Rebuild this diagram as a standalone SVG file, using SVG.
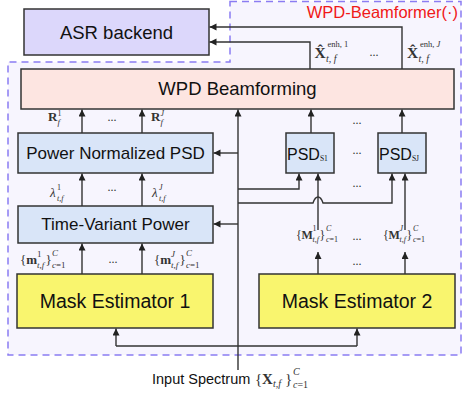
<svg xmlns="http://www.w3.org/2000/svg" width="462" height="405" viewBox="0 0 462 405">
<style>
.box{stroke:#333;stroke-width:1.5}
.t{font-family:"Liberation Sans",Arial,Helvetica,sans-serif;fill:#111;text-anchor:middle}
.m{font-family:"Liberation Serif","Times New Roman",serif;fill:#333}
.b{font-weight:bold}
.i{font-style:italic}
.c{fill:none;stroke:#333;stroke-width:1.4}
.d{font-family:"Liberation Serif",serif;fill:#333;font-size:12px;text-anchor:middle}
</style>
<defs>
<marker id="ah" markerUnits="userSpaceOnUse" markerWidth="8" markerHeight="8" refX="7" refY="3.5" orient="auto">
<path d="M0,0 L7,3.5 L0,7 Z" fill="#222"/>
</marker>
</defs>
<rect width="462" height="405" fill="#ffffff"/>
<g id="region">
<path d="M230,1.5 L461,1.5 L461,355 L8,355 L8,62 L230,62 Z" fill="#f7f5fe" stroke="#8b7cf2" stroke-width="1.5" stroke-dasharray="7 5"/>
<text x="458" y="18" font-family="Liberation Sans,Arial,sans-serif" font-size="16.5" fill="#f01818" text-anchor="end">WPD-Beamformer(·)</text>
</g>
<g id="asr">
<rect class="box" x="24" y="9" width="185" height="46" fill="#dcd7fb"/>
<text class="t" x="116.5" y="39" font-size="18.5">ASR backend</text>
</g>
<g id="wpd">
<rect class="box" x="21" y="69" width="433" height="40" fill="#fde5e1"/>
<text class="t" x="237.5" y="95" font-size="18.5">WPD Beamforming</text>
</g>
<g id="pnpsd">
<rect class="box" x="18" y="133" width="195" height="40" fill="#d9e5f8"/>
<text class="t" x="115.5" y="159" font-size="17">Power Normalized PSD</text>
</g>
<g id="tvp">
<rect class="box" x="18" y="206" width="195" height="37" fill="#d9e5f8"/>
<text class="t" x="115.5" y="230" font-size="17">Time-Variant Power</text>
</g>
<g id="psd1">
<rect class="box" x="286" y="133" width="48" height="40" fill="#d9e5f8"/>
<text x="287" y="159.5" font-family="Liberation Sans,Arial,sans-serif" font-size="16" fill="#111">PSD<tspan font-family="Liberation Serif,serif" font-size="7.5" dy="1">S1</tspan></text>
</g>
<g id="psdj">
<rect class="box" x="378" y="133" width="48" height="40" fill="#d9e5f8"/>
<text x="379" y="159.5" font-family="Liberation Sans,Arial,sans-serif" font-size="16" fill="#111">PSD<tspan font-family="Liberation Serif,serif" font-size="7.5" dy="1">SJ</tspan></text>
</g>
<g id="me1">
<rect class="box" x="17" y="274" width="196" height="54" fill="#f9f56e"/>
<text class="t" x="115" y="308" font-size="19.5">Mask Estimator 1</text>
</g>
<g id="me2">
<rect class="box" x="259" y="274" width="196" height="54" fill="#f9f56e"/>
<text class="t" x="357" y="308" font-size="19.5">Mask Estimator 2</text>
</g>
<g id="connectors">
<path class="c" d="M310,69 V42 H209.5" marker-end="url(#ah)"/>
<path class="c" d="M402,69 V27 H209.5" marker-end="url(#ah)"/>
<path class="c" d="M82,133 V109.5" marker-end="url(#ah)"/>
<path class="c" d="M142,133 V109.5" marker-end="url(#ah)"/>
<path class="c" d="M82,206 V173.5" marker-end="url(#ah)"/>
<path class="c" d="M142,206 V173.5" marker-end="url(#ah)"/>
<path class="c" d="M82,274 V243.5" marker-end="url(#ah)"/>
<path class="c" d="M142,274 V243.5" marker-end="url(#ah)"/>
<path class="c" d="M311,133 V109.5" marker-end="url(#ah)"/>
<path class="c" d="M402,133 V109.5" marker-end="url(#ah)"/>
<path class="c" d="M238,370 V109.5" marker-end="url(#ah)"/>
<path class="c" d="M238,153 H213.5" marker-end="url(#ah)"/>
<path class="c" d="M238,224 H213.5" marker-end="url(#ah)"/>
<path class="c" d="M238,189 H299 V173.5" marker-end="url(#ah)"/>
<path class="c" d="M238,203 H313 Q315,197 318,197 Q321,197 323,203 H392 V173.5" marker-end="url(#ah)"/>
<path class="c" d="M318,230 V173.5" marker-end="url(#ah)"/>
<path class="c" d="M405,230 V173.5" marker-end="url(#ah)"/>
<path class="c" d="M318,274 V252" marker-end="url(#ah)"/>
<path class="c" d="M405,274 V252" marker-end="url(#ah)"/>
<path class="c" d="M116,346 H357"/>
<path class="c" d="M116,346 V328.5" marker-end="url(#ah)"/>
<path class="c" d="M357,346 V328.5" marker-end="url(#ah)"/>
</g>
<g id="labels">
<text class="m" font-size="15.5"><tspan class="b" x="314.5" y="57.5">X̂</tspan><tspan font-size="8.5" x="327.5" y="47">enh, 1</tspan><tspan class="i" font-size="10" x="326" y="62">t, f</tspan></text>
<text class="d" x="374" y="56">...</text>
<text class="m" font-size="15.5"><tspan class="b" x="407" y="57.5">X̂</tspan><tspan font-size="8.5" x="420" y="47">enh, <tspan class="i">J</tspan></tspan><tspan class="i" font-size="10" x="418.5" y="62">t, f</tspan></text>

<text class="m" font-size="13"><tspan class="b" x="48" y="121">R</tspan><tspan font-size="8" x="57.5" y="116">1</tspan><tspan class="i" font-size="9" x="57.5" y="125">f</tspan></text>
<text class="d" x="112" y="121">...</text>
<text class="m" font-size="13"><tspan class="b" x="151" y="121">R</tspan><tspan class="i" font-size="8" x="160.5" y="116">J</tspan><tspan class="i" font-size="9" x="160.5" y="125">f</tspan></text>

<text class="m" font-size="13"><tspan class="i" x="50" y="197">λ</tspan><tspan font-size="8" x="57" y="190">1</tspan><tspan class="i" font-size="8" x="57" y="201">t,f</tspan></text>
<text class="d" x="112" y="191">...</text>
<text class="m" font-size="13"><tspan class="i" x="152" y="197">λ</tspan><tspan class="i" font-size="8" x="159" y="190">J</tspan><tspan class="i" font-size="8" x="159" y="201">t,f</tspan></text>

<text class="m" font-size="13"><tspan x="20" y="264">{</tspan><tspan class="b" x="26.2" y="264">m</tspan><tspan font-size="9" x="37" y="257">1</tspan><tspan class="i" font-size="9" x="37" y="268">t,f</tspan><tspan x="45.5" y="264">}</tspan><tspan class="i" font-size="9" x="52" y="256">C</tspan><tspan font-size="9" x="52" y="268"><tspan class="i">c</tspan>=1</tspan></text>
<text class="d" x="113" y="263">...</text>
<text class="m" font-size="13"><tspan x="154" y="264">{</tspan><tspan class="b" x="160.2" y="264">m</tspan><tspan class="i" font-size="9" x="171" y="257">J</tspan><tspan class="i" font-size="9" x="171" y="268">t,f</tspan><tspan x="179.5" y="264">}</tspan><tspan class="i" font-size="9" x="186" y="256">C</tspan><tspan font-size="9" x="186" y="268"><tspan class="i">c</tspan>=1</tspan></text>

<text class="m" font-size="12"><tspan x="296" y="239">{</tspan><tspan class="b" x="301.5" y="239">M</tspan><tspan font-size="8" x="312.5" y="231">1</tspan><tspan class="i" font-size="8" x="312.5" y="242">t,f</tspan><tspan x="319.5" y="239">}</tspan><tspan class="i" font-size="8" x="326" y="231">C</tspan><tspan font-size="8" x="326" y="242"><tspan class="i">c</tspan>=1</tspan></text>
<text class="d" x="357" y="240">...</text>
<text class="m" font-size="12"><tspan x="383" y="239">{</tspan><tspan class="b" x="388.5" y="239">M</tspan><tspan class="i" font-size="8" x="399.5" y="231">J</tspan><tspan class="i" font-size="8" x="399.5" y="242">t,f</tspan><tspan x="406.5" y="239">}</tspan><tspan class="i" font-size="8" x="413" y="231">C</tspan><tspan font-size="8" x="413" y="242"><tspan class="i">c</tspan>=1</tspan></text>

<text class="d" x="357" y="124">...</text>
<text class="d" x="357" y="154">...</text>
<text class="d" x="357" y="187">...</text>
<text class="d" x="357" y="265">...</text>

<text x="152" y="384" font-family="Liberation Sans,Arial,sans-serif" font-size="14.5" fill="#111">Input Spectrum</text>
<text class="m" font-size="15"><tspan x="255" y="384">{</tspan><tspan class="b" x="262" y="384">X</tspan><tspan class="i" font-size="10" x="273" y="387">t,f</tspan><tspan x="285" y="384">}</tspan><tspan class="i" font-size="10" x="293" y="375">C</tspan><tspan font-size="10" x="293" y="388"><tspan class="i">c</tspan>=1</tspan></text>
</g>
</svg>
